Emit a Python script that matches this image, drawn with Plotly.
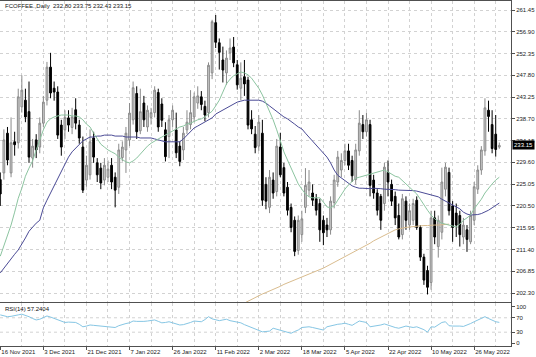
import plotly.graph_objects as go

# ---------------- data ----------------
tick_labels = ["16 Nov 2021", "3 Dec 2021", "21 Dec 2021", "7 Jan 2022", "26 Jan 2022",
               "11 Feb 2022", "2 Mar 2022", "18 Mar 2022", "5 Apr 2022", "22 Apr 2022",
               "10 May 2022", "26 May 2022"]
bars_per_label = 12

opens = [226.0, 227.4, 235.7, 227.4, 233.9, 233.7, 241.2, 242.6, 240.2, 230.5,
         234.3, 232.8, 237.8, 242.6, 249.5, 245.1, 244.3, 237.4, 236.4, 238.9,
         236.9, 240.6, 237.4, 232.8, 225.9, 227.0, 234.7, 229.5, 228.4, 225.9,
         226.5, 229.0, 226.5, 224.4, 230.6, 232.2, 234.3, 238.5, 244.0, 236.2,
         242.0, 237.0, 239.0, 240.0, 244.2, 241.8, 236.4, 235.0, 238.5, 236.4,
         233.0, 232.2, 236.4, 237.5, 239.1, 242.0, 243.3, 241.3, 240.0, 248.3,
         258.8, 254.6, 251.0, 248.3, 252.5, 253.7, 250.0, 245.1, 247.5, 246.8,
         238.5, 235.5, 233.0, 235.7, 225.0, 220.2, 225.9, 223.5, 232.8, 228.5,
         224.4, 220.2, 217.5, 211.2, 214.5, 220.2, 223.8, 223.2, 222.0, 221.0,
         217.5, 216.5, 215.5, 221.2, 225.5, 228.0, 230.0, 232.0, 230.0, 226.0,
         232.0, 237.5, 236.0, 237.5, 225.9, 223.2, 222.5, 221.0, 227.5, 225.0,
         222.5, 218.5, 214.5, 221.5, 216.5, 217.5, 221.7, 216.0, 209.8, 207.0,
         204.5, 218.0, 212.0, 215.0, 224.0, 227.5, 220.5, 219.0, 218.5, 214.0,
         215.5, 213.0, 217.5, 224.0, 228.0, 232.0, 240.5, 237.5, 235.5, 232.80]
highs = [227.5, 236.5, 237.0, 239.0, 236.0, 245.0, 247.8, 245.0, 246.5, 234.5,
         235.5, 239.0, 243.5, 250.6, 252.5, 246.5, 245.5, 238.5, 240.5, 240.5,
         241.0, 243.0, 238.5, 235.0, 231.0, 236.5, 236.0, 230.5, 229.5, 230.5,
         230.0, 230.5, 227.5, 233.5, 234.0, 237.0, 242.0, 246.5, 245.5, 245.0,
         243.5, 241.5, 241.0, 245.5, 245.0, 243.0, 238.0, 239.5, 241.5, 240.0,
         234.0, 237.0, 240.5, 244.7, 244.2, 245.5, 244.5, 242.5, 250.5, 259.4,
         260.4, 255.5, 253.8, 253.0, 255.5, 255.8, 251.0, 250.5, 251.0, 247.5,
         240.5, 237.2, 239.5, 238.5, 226.5, 228.0, 227.5, 234.5, 235.8, 229.5,
         225.5, 221.0, 218.3, 218.5, 219.5, 228.4, 228.0, 225.0, 223.0, 222.0,
         218.5, 218.0, 222.5, 227.0, 232.0, 231.5, 233.5, 233.5, 231.0, 233.5,
         240.5, 239.5, 240.0, 238.5, 227.0, 224.0, 223.0, 229.5, 230.0, 226.0,
         223.5, 221.0, 223.0, 222.5, 221.0, 222.0, 222.5, 216.5, 210.5, 208.0,
         219.5, 219.5, 218.5, 228.5, 229.5, 228.5, 221.5, 221.0, 219.5, 218.0,
         216.5, 219.5, 225.5, 229.0, 233.0, 243.0, 242.5, 240.5, 239.5, 233.75]
lows = [220.5, 226.0, 229.0, 226.5, 231.0, 232.5, 240.0, 238.0, 229.5, 228.5,
        230.5, 231.5, 237.0, 241.5, 243.0, 242.5, 234.5, 231.0, 234.5, 236.0,
        235.5, 236.5, 233.5, 223.2, 224.5, 226.0, 229.5, 225.5, 224.0, 224.8,
        225.5, 224.0, 220.2, 223.0, 229.8, 227.4, 233.0, 237.5, 234.5, 235.5,
        237.0, 236.0, 237.5, 239.0, 236.0, 237.0, 229.8, 230.5, 237.0, 230.5,
        228.8, 230.1, 235.5, 236.5, 238.0, 240.8, 240.5, 238.2, 239.0, 247.0,
        253.5, 249.0, 246.3, 245.8, 251.0, 249.5, 244.8, 242.6, 243.5, 236.5,
        235.5, 231.5, 232.0, 220.5, 219.8, 219.0, 222.0, 222.5, 226.5, 222.5,
        218.5, 215.0, 210.0, 210.3, 213.0, 219.0, 222.5, 220.5, 218.5, 213.0,
        212.3, 214.0, 214.5, 220.0, 224.5, 226.5, 229.0, 228.0, 225.5, 225.0,
        231.0, 234.5, 235.0, 222.5, 222.0, 218.5, 215.5, 219.5, 222.5, 220.5,
        216.5, 213.5, 213.5, 215.5, 215.5, 216.5, 215.5, 209.0, 204.0, 202.0,
        203.0, 212.5, 209.7, 213.5, 222.5, 218.5, 213.0, 214.0, 212.0, 212.5,
        210.9, 212.5, 216.5, 223.0, 227.0, 231.0, 236.0, 231.5, 230.8, 232.43]
closes = [223.0, 234.3, 230.1, 233.7, 233.3, 243.3, 244.7, 239.1, 230.7, 233.0,
          232.2, 237.8, 242.2, 249.5, 244.1, 244.3, 235.3, 232.8, 239.0, 237.4,
          239.1, 237.8, 234.7, 223.8, 229.0, 233.9, 230.7, 227.0, 225.3, 229.0,
          228.2, 225.5, 223.8, 232.2, 232.8, 235.7, 239.9, 245.2, 236.0, 240.2,
          238.5, 240.5, 240.0, 244.7, 237.0, 238.4, 230.8, 238.5, 240.5, 231.6,
          229.8, 235.7, 238.0, 240.0, 243.3, 243.5, 241.7, 239.5, 249.9, 259.0,
          254.7, 252.6, 248.9, 251.4, 253.5, 250.4, 245.8, 247.2, 246.0, 237.4,
          236.6, 232.7, 238.0, 221.7, 221.5, 226.5, 223.2, 233.0, 227.0, 223.2,
          219.6, 216.0, 211.0, 217.5, 217.8, 224.8, 225.5, 221.7, 219.6, 215.5,
          214.9, 215.5, 221.5, 225.9, 230.7, 230.0, 232.0, 229.0, 226.8, 232.2,
          237.8, 236.0, 238.5, 224.8, 223.2, 219.6, 217.5, 228.6, 225.5, 221.5,
          218.0, 214.0, 222.0, 217.5, 219.5, 221.0, 216.0, 209.8, 205.0, 203.5,
          218.0, 214.0, 217.5, 225.5, 228.6, 219.5, 216.0, 216.5, 214.5, 216.5,
          213.5, 218.5, 224.5, 228.0, 232.2, 241.0, 239.2, 232.5, 232.3, 233.15]

ma_green = [210.0, 212.1, 214.4, 216.5, 219.2, 222.1, 224.2, 226.7, 228.4, 229.9,
            232.2, 234.5, 236.4, 238.0, 238.7, 239.1, 239.3, 239.5, 239.5, 239.5,
            239.3, 239.3, 239.1, 238.5, 237.6, 237.0, 235.7, 234.5, 233.4, 232.8,
            232.2, 231.8, 231.4, 230.7, 230.1, 229.7, 229.5, 229.9, 230.5, 231.4,
            232.2, 233.0, 233.6, 234.1, 234.5, 234.9, 235.3, 235.7, 236.1, 236.6,
            237.0, 237.2, 237.6, 237.8, 238.2, 238.5, 238.7, 239.1, 239.7, 240.3,
            241.4, 242.6, 244.3, 246.0, 247.0, 247.7, 248.1, 248.5, 248.3, 247.9,
            247.2, 246.2, 245.1, 243.7, 242.0, 240.3, 238.5, 236.4, 234.1, 231.8,
            230.1, 228.4, 226.9, 225.1, 224.0, 223.0, 222.4, 222.2, 222.2, 222.2,
            221.3, 220.3, 220.1, 220.5, 221.7, 223.0, 224.0, 224.9, 225.7, 226.3,
            226.5, 226.7, 226.9, 227.2, 227.4, 227.6, 227.8, 228.0, 227.6, 227.2,
            226.7, 226.5, 225.9, 225.1, 224.4, 223.8, 223.0, 221.9, 220.7, 219.6,
            218.6, 217.8, 217.3, 216.9, 216.7, 216.5, 216.3, 216.1, 216.7, 217.5,
            218.0, 218.6, 219.9, 220.9, 221.9, 223.2, 224.2, 225.1, 225.9, 226.5]
ma_blue = [206.5, 207.5, 208.6, 209.6, 210.4, 211.3, 212.5, 213.8, 215.2, 216.1,
           216.9, 217.5, 220.1, 221.7, 223.2, 224.7, 226.3, 228.0, 229.5, 230.7,
           231.8, 232.6, 233.4, 234.1, 234.5, 234.9, 234.9, 235.1, 235.1, 235.3,
           235.3, 235.3, 235.1, 235.1, 235.1, 234.9, 234.9, 234.9, 234.9, 234.7,
           234.7, 234.7, 234.7, 234.5, 234.3, 234.1, 233.9, 233.9, 233.9, 233.9,
           233.9, 234.5, 235.3, 236.2, 236.8, 237.2, 237.6, 238.0, 238.5, 238.9,
           239.7, 240.1, 240.5, 241.0, 241.4, 241.8, 242.2, 242.4, 242.6, 242.6,
           242.6, 242.6, 242.6, 242.4, 242.0, 241.4, 240.8, 240.1, 239.5, 239.1,
           238.7, 238.2, 237.6, 237.0, 236.6, 235.7, 234.9, 234.1, 233.2, 232.4,
           231.6, 230.7, 229.5, 228.0, 226.9, 226.3, 225.7, 225.1, 224.7, 224.4,
           224.2, 224.2, 224.1, 224.1, 224.2, 224.2, 224.1, 224.0, 224.0, 223.9,
           223.9, 223.8, 223.8, 223.8, 223.8, 223.7, 223.6, 223.4, 223.2, 223.0,
           222.8, 222.6, 222.4, 221.9, 221.5, 221.1, 220.7, 220.3, 219.9, 219.2,
           218.8, 218.6, 218.6, 218.7, 218.9, 219.2, 219.6, 220.1, 220.6, 221.1]
ma_tan_start = 68
ma_tan = [200.2, 200.6, 201.0, 201.4, 201.7, 202.1, 202.4, 202.7, 203.1, 203.4,
          203.7, 204.1, 204.4, 204.7, 205.0, 205.3, 205.6, 205.9, 206.3, 206.6,
          206.9, 207.2, 207.5, 207.9, 208.3, 208.6, 209.0, 209.4, 209.8, 210.2,
          210.7, 211.1, 211.5, 211.9, 212.3, 212.7, 213.2, 213.6, 214.0, 214.4,
          214.8, 215.1, 215.5, 215.7, 215.9, 216.0, 216.1, 216.2, 216.3, 216.3,
          216.4, 216.4, 216.5, 216.5, 216.5, 216.6, 216.6, 216.7]
rsi = [78, 75, 73, 74, 75, 78, 80, 77, 73, 68,
       64, 66, 71, 75, 72, 68, 63, 59, 57, 58,
       58, 57, 52, 45, 47, 50, 49, 48, 47, 46,
       45, 44, 43, 48, 52, 54, 56, 61, 60, 59,
       60, 61, 62, 64, 60, 56, 57, 59, 56, 53,
       50, 51, 53, 57, 61, 60, 59, 65, 73, 67,
       64, 62, 64, 66, 62, 60, 58, 56, 51, 47,
       44, 41, 36, 31, 32, 33, 41, 38, 36, 32,
       29, 27, 32, 36, 43, 44, 45, 43, 41, 38,
       36, 45, 48, 50, 52, 53, 55, 52, 49, 55,
       61, 59, 57, 45, 46, 47, 50, 53, 49, 45,
       43, 41, 44, 47, 45, 43, 45, 42, 37, 30,
       45, 44, 50, 57, 59, 48, 47, 48, 47, 46,
       49, 54, 59, 63, 67, 73, 68, 63, 59, 57.2404]

symbol_title = "FCOFFEE.,Daily  232.80 233.75 232.43 233.15"
rsi_title = "RSI(14) 57.2404"
last_price = 233.15
price_tick0 = 202.30
price_step = 4.55
rsi_ticks = [0, 30, 70, 100]
rsi_levels = [30, 70]

# ---------------- figure ----------------
n = len(closes)
xs = list(range(n))
W, H = 536, 357
FONT = "Liberation Sans, Arial, sans-serif"
GRID = "#d2d2d2"
FRAME = "#505050"

fig = go.Figure()
fig.add_trace(go.Candlestick(
    x=xs, open=opens, high=highs, low=lows, close=closes,
    increasing=dict(fillcolor="#cfcfcf", line=dict(color="#8a8a8a", width=1)),
    decreasing=dict(fillcolor="#000000", line=dict(color="#000000", width=1)),
    whiskerwidth=0, showlegend=False, hoverinfo="skip", xaxis="x", yaxis="y"))
fig.add_trace(go.Scatter(x=list(range(ma_tan_start, ma_tan_start + len(ma_tan))), y=ma_tan,
                         mode="lines", line=dict(color="#d9bc8e", width=1),
                         showlegend=False, hoverinfo="skip", xaxis="x", yaxis="y"))
fig.add_trace(go.Scatter(x=xs, y=ma_blue, mode="lines", line=dict(color="#4b4b96", width=1),
                         showlegend=False, hoverinfo="skip", xaxis="x", yaxis="y"))
fig.add_trace(go.Scatter(x=xs, y=ma_green, mode="lines", line=dict(color="#8cc4a0", width=1),
                         showlegend=False, hoverinfo="skip", xaxis="x", yaxis="y"))
fig.add_trace(go.Scatter(x=xs, y=rsi, mode="lines", line=dict(color="#86c6e4", width=1),
                         showlegend=False, hoverinfo="skip", xaxis="x2", yaxis="y2"))

right = 511 / W
xr = [-0.08, 142.26]
main_dom = [(H - 302) / H, (H - 1) / H]
rsi_dom = [(H - 346) / H, (H - 303) / H]
label_pos = [i * bars_per_label for i in range(len(tick_labels))]

common_x = dict(domain=[0, right], range=xr, showline=True, mirror=True, linecolor=FRAME,
                linewidth=1, zeroline=False, fixedrange=True, automargin=False,
                showgrid=True, gridcolor=GRID, griddash="dot", gridwidth=1,
                minor=dict(dtick=6, tick0=0, showgrid=True, gridcolor=GRID, griddash="dot"))

fig.update_layout(
    width=W, height=H, margin=dict(l=0, r=0, t=0, b=0, autoexpand=False),
    paper_bgcolor="white", plot_bgcolor="white",
    font=dict(family=FONT, size=6, color="#222222"),
    showlegend=False,
    xaxis=dict(**common_x, anchor="y", tickvals=label_pos, showticklabels=False, ticks="",
               rangeslider=dict(visible=False)),
    xaxis2=dict(**common_x, anchor="y2", tickvals=label_pos, ticktext=tick_labels,
                ticks="outside", ticklen=3, tickcolor=FRAME, tickangle=0,
                ticklabelposition="outside right", tickfont=dict(size=6, family=FONT)),
    yaxis=dict(domain=main_dom, range=[200.42, 263.33], side="right", anchor="x",
               tick0=price_tick0, dtick=price_step, tickformat=".2f", automargin=False,
               showline=True, mirror=True, linecolor=FRAME, linewidth=1,
               ticks="outside", ticklen=3, tickcolor=FRAME,
               showgrid=True, gridcolor=GRID, griddash="dot", zeroline=False,
               tickfont=dict(size=6, family=FONT), fixedrange=True),
    yaxis2=dict(domain=rsi_dom, range=[-8.3, 111], side="right", anchor="x2",
                tickvals=rsi_ticks, showline=True, mirror=True, linecolor=FRAME, linewidth=1,
                ticks="outside", ticklen=3, tickcolor=FRAME, automargin=False,
                showgrid=False, zeroline=False, tickfont=dict(size=6, family=FONT),
                fixedrange=True),
)

for lv in rsi_levels:
    fig.add_shape(type="line", xref="x2", yref="y2", x0=xr[0], x1=xr[1], y0=lv, y1=lv,
                  line=dict(color=GRID, width=1, dash="dot"), layer="below")

fig.add_annotation(text=symbol_title, xref="paper", yref="paper", x=3 / W, y=(H - 1) / H,
                   xanchor="left", yanchor="top", showarrow=False,
                   font=dict(size=6, family=FONT, color="#111111"))
fig.add_annotation(text=rsi_title, xref="paper", yref="paper", x=3 / W, y=(H - 304) / H,
                   xanchor="left", yanchor="top", showarrow=False,
                   font=dict(size=6, family=FONT, color="#111111"))
fig.add_annotation(text=f"{last_price:.2f}", xref="paper", yref="y", x=right + 1 / W, y=last_price,
                   xanchor="left", yanchor="middle", showarrow=False, bgcolor="#000000",
                   borderpad=1, font=dict(size=6, family=FONT, color="#ffffff"))

fig.write_html("out.html", config={"displayModeBar": False},
               post_script="document.body.style.margin='0';document.body.style.overflow='hidden';")
